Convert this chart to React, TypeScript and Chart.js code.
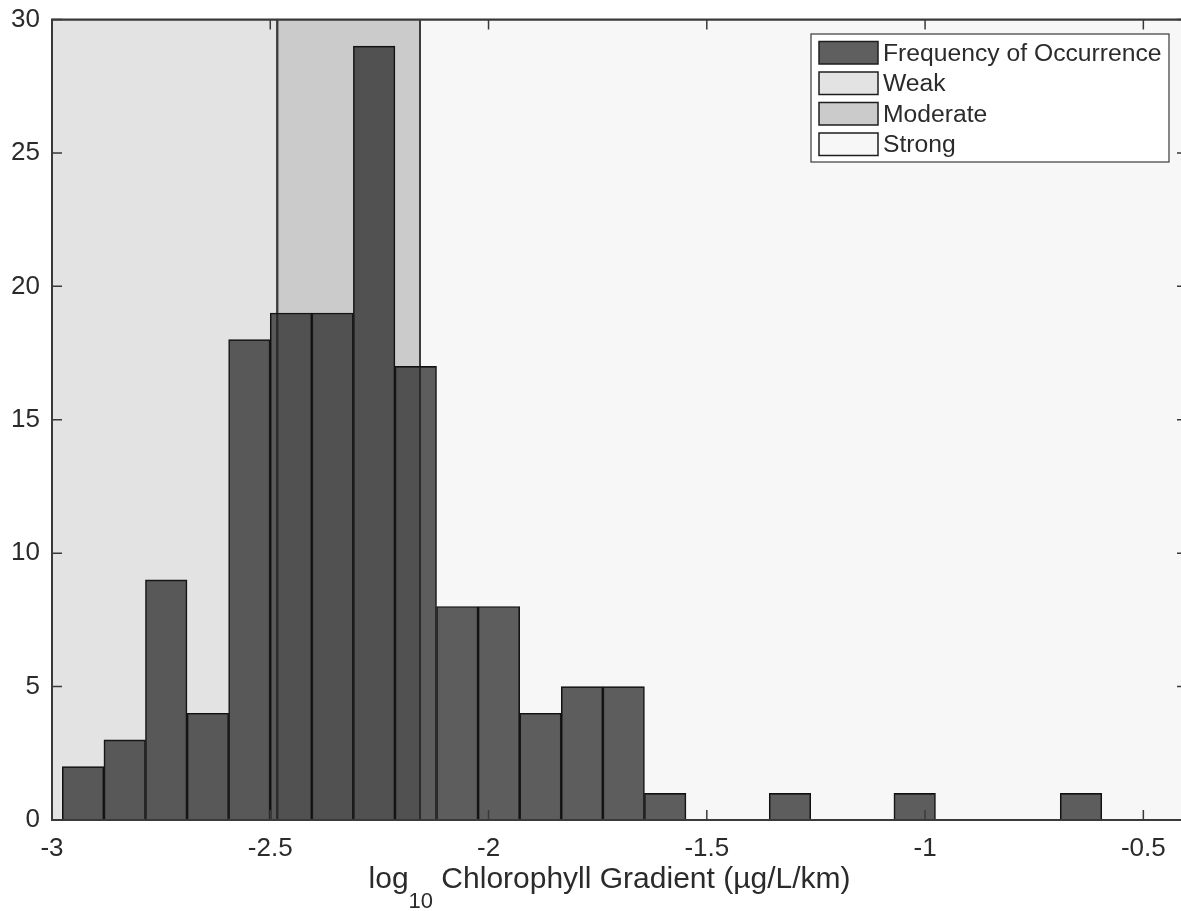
import React, { useEffect, useRef } from 'react';
import { Chart, registerables } from 'chart.js';

Chart.register(...registerables);

// ---- data ----
const seriesLabel = 'Frequency of Occurrence';
const binCenters = [
  -2.9288, -2.8335, -2.7383, -2.643, -2.5478, -2.4525, -2.3573, -2.262, -2.1668,
  -2.0715, -1.9763, -1.881, -1.7858, -1.6905, -1.5953, -1.5, -1.4048, -1.3095,
  -1.2143, -1.119, -1.0238, -0.9285, -0.8333, -0.738, -0.6428,
];
const counts = [2, 3, 9, 4, 18, 19, 19, 29, 17, 8, 8, 4, 5, 5, 1, 0, 0, 1, 0, 0, 1, 0, 0, 0, 1];
const xTickValues = [-3, -2.5, -2, -1.5, -1, -0.5];
const yTickValues = [0, 5, 10, 15, 20, 25, 30];
const regionNames = ['Weak', 'Moderate', 'Strong'];
const regionStarts = [-3, -2.484, -2.157];
const regionEnds = [-2.484, -2.157, -0.4];
const regionColors = ['#e3e3e3', '#cbcbcb', '#f7f7f7'];
const xMin = -3;
const xMax = -0.4;
const yMin = 0;
const yMax = 30;

const FONT = "'Liberation Sans', Arial, Helvetica, sans-serif";
const BAR_FILL = 'rgba(35,35,35,0.73)';
const BAR_EDGE = '#111111';
const AXIS_COLOR = '#3a3a3a';
const TEXT_COLOR = '#2b2b2b';

const regionsPlugin = {
  id: 'regions',
  beforeDatasetsDraw(chart: any) {
    const { ctx, chartArea, scales } = chart;
    const xs = scales.x;
    const ys = scales.y;
    ctx.save();
    ctx.beginPath();
    ctx.rect(chartArea.left, chartArea.top, chartArea.right - chartArea.left, chartArea.bottom - chartArea.top);
    ctx.clip();
    const top = ys.getPixelForValue(yMax);
    const bottom = ys.getPixelForValue(yMin);
    for (let i = 0; i < regionNames.length; i++) {
      const x0 = xs.getPixelForValue(regionStarts[i]);
      const x1 = xs.getPixelForValue(regionEnds[i]);
      ctx.fillStyle = regionColors[i];
      ctx.fillRect(x0, top, x1 - x0, bottom - top);
    }
    ctx.strokeStyle = '#3c3c3c';
    ctx.lineWidth = 2;
    for (let i = 0; i < regionNames.length; i++) {
      const x0 = xs.getPixelForValue(regionStarts[i]);
      const x1 = xs.getPixelForValue(regionEnds[i]);
      ctx.strokeRect(x0, top, x1 - x0, bottom - top);
    }
    ctx.restore();
  },
};

const framePlugin = {
  id: 'frame',
  afterDatasetsDraw(chart: any) {
    const { ctx, chartArea, scales } = chart;
    const { left, right, top, bottom } = chartArea;
    const tl = 10;
    ctx.save();
    ctx.strokeStyle = AXIS_COLOR;
    ctx.lineWidth = 2;
    ctx.beginPath();
    ctx.rect(left, top, right - left, bottom - top);
    ctx.stroke();
    ctx.lineWidth = 1.5;
    ctx.beginPath();
    for (const v of xTickValues) {
      const px = scales.x.getPixelForValue(v);
      ctx.moveTo(px, bottom);
      ctx.lineTo(px, bottom - tl);
      ctx.moveTo(px, top);
      ctx.lineTo(px, top + tl);
    }
    for (const v of yTickValues) {
      const py = scales.y.getPixelForValue(v);
      ctx.moveTo(left, py);
      ctx.lineTo(left + tl, py);
      ctx.moveTo(right, py);
      ctx.lineTo(right - tl, py);
    }
    ctx.stroke();
    ctx.restore();
  },
};

const legendPlugin = {
  id: 'boxLegend',
  afterDraw(chart: any) {
    const { ctx, chartArea } = chart;
    const labels = [seriesLabel, ...regionNames];
    const fills = [BAR_FILL, ...regionColors];
    const boxRight = chartArea.right - 18;
    const boxLeft = boxRight - 358;
    const boxTop = chartArea.top + 14.5;
    const boxH = 128;
    ctx.save();
    ctx.fillStyle = '#ffffff';
    ctx.fillRect(boxLeft, boxTop, boxRight - boxLeft, boxH);
    ctx.strokeStyle = '#3a3a3a';
    ctx.lineWidth = 1.2;
    ctx.strokeRect(boxLeft, boxTop, boxRight - boxLeft, boxH);
    ctx.font = `24.7px ${FONT}`;
    ctx.textBaseline = 'middle';
    ctx.textAlign = 'left';
    for (let i = 0; i < labels.length; i++) {
      const sx = boxLeft + 8;
      const sy = boxTop + 7.5 + i * 30.5;
      const sw = 59;
      const sh = 22.5;
      ctx.fillStyle = '#ffffff';
      ctx.fillRect(sx, sy, sw, sh);
      ctx.fillStyle = fills[i];
      ctx.fillRect(sx, sy, sw, sh);
      ctx.strokeStyle = '#1e1e1e';
      ctx.lineWidth = 1.5;
      ctx.strokeRect(sx, sy, sw, sh);
      ctx.fillStyle = TEXT_COLOR;
      ctx.fillText(labels[i], sx + sw + 5, sy + sh / 2 + 1);
    }
    ctx.restore();
  },
};

const xTitlePlugin = {
  id: 'xTitle',
  afterDraw(chart: any) {
    const { ctx, chartArea } = chart;
    const main = 30;
    const sub = 22;
    const partA = 'log';
    const partB = '10';
    const partC = ' Chlorophyll Gradient (µg/L/km)';
    ctx.save();
    ctx.fillStyle = TEXT_COLOR;
    ctx.textBaseline = 'alphabetic';
    ctx.textAlign = 'left';
    ctx.font = `${main}px ${FONT}`;
    const wA = ctx.measureText(partA).width;
    const wC = ctx.measureText(partC).width;
    ctx.font = `${sub}px ${FONT}`;
    const wB = ctx.measureText(partB).width;
    const total = wA + wB + wC;
    const cx = (chartArea.left + chartArea.right) / 2 - 10;
    let x = cx - total / 2;
    const base = chartArea.bottom + 68;
    ctx.font = `${main}px ${FONT}`;
    ctx.fillText(partA, x, base);
    x += wA;
    ctx.font = `${sub}px ${FONT}`;
    ctx.fillText(partB, x, base + 20);
    x += wB;
    ctx.font = `${main}px ${FONT}`;
    ctx.fillText(partC, x, base);
    ctx.restore();
  },
};

export default function App() {
  const canvasRef = useRef<HTMLCanvasElement | null>(null);

  useEffect(() => {
    const canvas = canvasRef.current;
    if (!canvas) return;
    const chart = new Chart(canvas, {
      type: 'bar',
      data: {
        datasets: [
          {
            label: seriesLabel,
            data: binCenters.map((x, i) => ({ x, y: counts[i] })),
            backgroundColor: BAR_FILL,
            borderColor: BAR_EDGE,
            borderWidth: 1,
            barPercentage: 1,
            categoryPercentage: 1,
            grouped: false,
          } as any,
        ],
      },
      options: {
        responsive: false,
        maintainAspectRatio: false,
        devicePixelRatio: 1,
        animation: false,
        layout: { padding: { top: 19.5, right: 13, bottom: 0, left: 0 } },
        plugins: {
          legend: { display: false },
          tooltip: { enabled: false },
          title: { display: false },
        },
        scales: {
          x: {
            type: 'linear',
            min: xMin,
            max: xMax,
            offset: false,
            grid: { display: false, drawTicks: false },
            border: { display: false },
            ticks: {
              font: { family: FONT, size: 26 },
              color: TEXT_COLOR,
              padding: 13,
              autoSkip: false,
              maxRotation: 0,
              includeBounds: false,
              callback: (v: any) => String(v),
            },
            afterBuildTicks: (s: any) => {
              s.ticks = xTickValues.map((v) => ({ value: v }));
            },
            afterFit: (s: any) => {
              s.height = 91;
              s.paddingLeft = 0;
              s.paddingRight = 0;
            },
          },
          y: {
            type: 'linear',
            min: yMin,
            max: yMax,
            grid: { display: false, drawTicks: false },
            border: { display: false },
            ticks: {
              font: { family: FONT, size: 26 },
              color: TEXT_COLOR,
              padding: 12,
              callback: (v: any) => String(v),
            },
            afterBuildTicks: (s: any) => {
              s.ticks = yTickValues.map((v) => ({ value: v }));
            },
            afterFit: (s: any) => {
              s.width = 52;
              s.paddingTop = 0;
              s.paddingBottom = 0;
            },
          },
        },
      } as any,
      plugins: [regionsPlugin, framePlugin, legendPlugin, xTitlePlugin],
    });
    return () => chart.destroy();
  }, []);

  return (
    <div
      style={{
        position: 'fixed',
        left: 0,
        top: 0,
        width: 1181,
        height: 911,
        overflow: 'hidden',
        background: '#ffffff',
      }}
    >
      <canvas ref={canvasRef} width={1200} height={911} style={{ display: 'block', width: 1200, height: 911 }} />
    </div>
  );
}
